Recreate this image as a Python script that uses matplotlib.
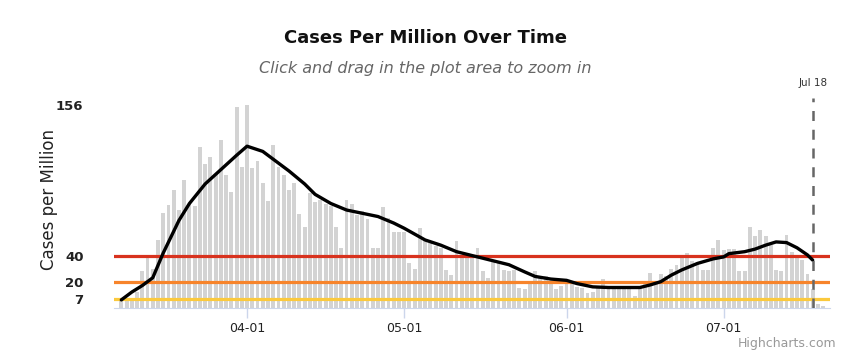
import matplotlib.pyplot as plt
import matplotlib.dates as mdates
import pandas as pd

# daily cases per million, starting 2020-03-08
first_day = '2020-03-08'
daily_cases = [
    # March 8 - 31
    5, 6, 7, 12, 28, 38, 30, 52, 73, 79, 90, 75, 98, 80, 78, 123, 110, 116,
    103, 129, 102, 89, 154, 108,
    # April
    156, 107, 113, 96, 82, 125, 108, 102, 90, 96, 72, 62, 88, 81, 83, 80, 78,
    62, 46, 83, 80, 71, 74, 68, 46, 46, 77, 69, 58, 58,
    # May
    58, 34, 30, 61, 52, 50, 47, 46, 29, 25, 51, 40, 39, 38, 46, 28, 23, 35,
    35, 29, 28, 29, 15, 14, 19, 28, 24, 24, 20, 14, 17,
    # June
    18, 19, 16, 15, 11, 12, 15, 22, 14, 15, 15, 16, 14, 9, 17, 18, 27, 19,
    26, 24, 30, 33, 38, 42, 36, 34, 29, 29, 46, 52,
    # July 1 - 20
    44, 45, 45, 28, 28, 62, 55, 60, 55, 48, 29, 28, 56, 43, 39, 37, 26, 14,
    3, 1,
]

# 7-day average line
avg_dates = [
    '2020-03-08', '2020-03-10', '2020-03-12', '2020-03-14', '2020-03-16',
    '2020-03-19', '2020-03-21', '2020-03-24', '2020-03-27', '2020-03-30',
    '2020-04-01', '2020-04-04', '2020-04-07', '2020-04-09', '2020-04-12',
    '2020-04-14', '2020-04-17', '2020-04-20', '2020-04-23', '2020-04-26',
    '2020-04-29', '2020-05-01', '2020-05-05', '2020-05-08', '2020-05-11',
    '2020-05-14', '2020-05-17', '2020-05-21', '2020-05-24', '2020-05-26',
    '2020-05-29', '2020-06-01', '2020-06-03', '2020-06-06', '2020-06-09',
    '2020-06-12', '2020-06-15', '2020-06-17', '2020-06-19', '2020-06-21',
    '2020-06-23', '2020-06-26', '2020-06-29', '2020-07-01', '2020-07-02',
    '2020-07-05', '2020-07-07', '2020-07-09', '2020-07-11', '2020-07-13',
    '2020-07-15', '2020-07-17', '2020-07-18',
]
avg_values = [
    6, 12, 17, 23, 42,
    67, 80, 95, 106, 117,
    124, 120, 111, 105, 95,
    87, 80, 75, 72.5, 70,
    65, 61, 52, 48, 43,
    40, 37, 33, 27.5, 24,
    22, 21, 18.5, 16, 15.5,
    15.5, 15.5, 17.5, 20, 25,
    29, 34, 37.5, 39, 41.5,
    43, 45, 48, 50.5, 50,
    46, 40.5, 36.5,
]

threshold_levels = [7, 20, 40]
threshold_colors = ['#fbc93d', '#f7842b', '#d8321e']
y_ticks = [7, 20, 40, 156]
x_ticks = ['2020-04-01', '2020-05-01', '2020-06-01', '2020-07-01']
marker_day = '2020-07-18'
marker_label = 'Jul 18'

plt.rcParams['font.family'] = ['DejaVu Sans']

fig = plt.figure(figsize=(8.5, 3.54), dpi=100)
ax = fig.add_axes([114 / 850, 1 - 307.7 / 354, 716 / 850, 209.7 / 354])

days = pd.date_range(first_day, periods=len(daily_cases), freq='D')
ax.bar(days, daily_cases, width=0.74, color='#d3d3d3', zorder=1)

for level, col in zip(threshold_levels, threshold_colors):
    ax.axhline(level, color=col, lw=2.3, zorder=2)

ax.plot(pd.to_datetime(avg_dates), avg_values, color='black', lw=2.4,
        solid_joinstyle='round', solid_capstyle='round', zorder=3)

mday = pd.Timestamp(marker_day)
ax.axvline(mday, color='#666666', lw=1.8, ls=(0, (4, 3.5)), zorder=4)
ax.annotate(marker_label, (mdates.date2num(mday), 1), xycoords=('data', 'axes fraction'),
            xytext=(0, 7), textcoords='offset points', ha='center', va='bottom',
            fontsize=7.5, color='#333333')

ref = pd.Timestamp('2020-04-01')
ax.set_xlim(mdates.date2num(ref) - 25.4, mdates.date2num(ref) + 111.3)
ax.set_ylim(0, 161)

ax.set_xticks(pd.to_datetime(x_ticks))
ax.xaxis.set_major_formatter(mdates.DateFormatter('%m-%d'))
ax.tick_params(axis='x', length=7, width=1, color='#ccd6eb', labelsize=9,
               labelcolor='#222222', pad=3)
ax.set_yticks(y_ticks)
ax.tick_params(axis='y', length=0, labelsize=9.5, labelcolor='#222222', pad=22)
for lab in ax.get_yticklabels():
    lab.set_fontweight('semibold')

for side in ['top', 'right', 'left']:
    ax.spines[side].set_visible(False)
ax.spines['bottom'].set_color('#ccd6eb')

fig.text(0.5, 1 - 38 / 354, 'Cases Per Million Over Time', ha='center', va='center',
         fontsize=13, fontweight='bold', color='#111111')
fig.text(0.5, 1 - 68 / 354, 'Click and drag in the plot area to zoom in', ha='center',
         va='center', fontsize=11.5, style='italic', color='#666666')
fig.text(49 / 850, 1 - 200 / 354, 'Cases per Million', rotation=90, ha='center',
         va='center', fontsize=12, color='#222222')
fig.text(836 / 850, 1 - 343 / 354, 'Highcharts.com', ha='right', va='center',
         fontsize=9, color='#999999')

fig.savefig('out.png', dpi=100)
